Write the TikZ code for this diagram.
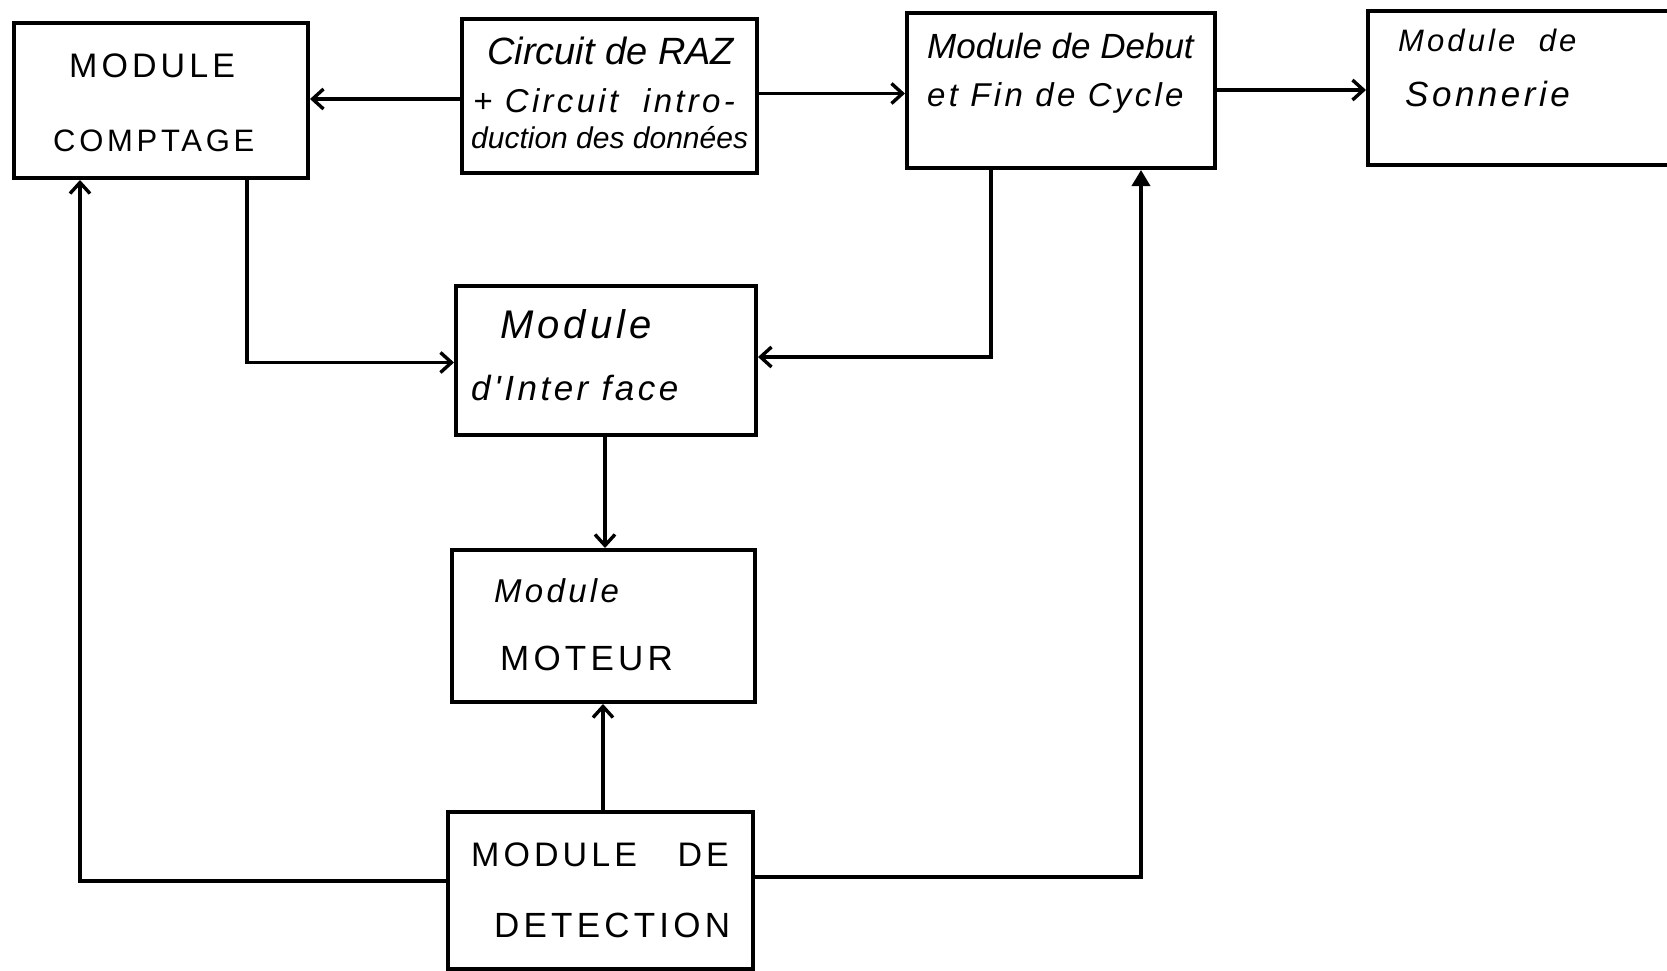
\documentclass[tikz,border=0pt]{standalone}
\usepackage{fontspec}
\setmainfont{Liberation Sans}
\newfontfamily\capsfont[LetterSpace=12]{Liberation Sans}
\newfontfamily\spfont[LetterSpace=10]{Liberation Sans}
\usetikzlibrary{arrows.meta}
\begin{document}
\begin{tikzpicture}[x=1pt,y=-1pt,
  box/.style={draw, line width=4pt, inner sep=0pt},
  conn/.style={line width=3.6pt},
  arr/.style={conn, -{Straight Barb[length=11pt,width=20pt,line width=3.4pt]}},
  tri/.style={conn, -{Triangle[length=16pt,width=18pt]}},
  lc/.style={anchor=west, inner sep=0pt, font=\fontsize{#1}{#1}\selectfont\itshape},
  lcs/.style={anchor=west, inner sep=0pt, font=\fontsize{#1}{#1}\selectfont\spfont\itshape},
  uc/.style={anchor=west, inner sep=0pt, font=\fontsize{#1}{#1}\selectfont\capsfont}]
\fill[white] (0,0) rectangle (1667,971);
\useasboundingbox (0,0) rectangle (1667,971);

% boxes
\node[box, minimum width=294pt, minimum height=155pt] (comptage) at (161,100.5) {};
\node[box, minimum width=295pt, minimum height=154pt] (raz) at (609.5,96) {};
\node[box, minimum width=308pt, minimum height=155pt] (debut) at (1061,90.5) {};
\node[box, minimum width=312pt, minimum height=154pt] (son) at (1524,88) {};
\node[box, minimum width=300pt, minimum height=149pt] (iface) at (606,360.5) {};
\node[box, minimum width=303pt, minimum height=152pt] (moteur) at (603.5,626) {};
\node[box, minimum width=305pt, minimum height=157pt] (detect) at (600.5,890.5) {};

% texts
\node[uc=34] (t1) at (69,66) {MODULE};
\node[uc=31] (t2) at (53,141) {COMPTAGE};
\node[lc=38] (t3) at (487,51) {Circuit de RAZ};
\node[lcs=33] (t4) at (473,101) {+ Circuit\ \ intro-};
\node[lc=30] (t5) at (471,138) {duction des données};
\node[lc=35] (t6) at (927,46) {Module de Debut};
\node[lcs=33] (t7) at (927,98) {et Fin de Cycle};
\node[lcs=31] (t8) at (1398,40) {Module\ \ de};
\node[lcs=35] (t9) at (1405,94) {Sonnerie};
\node[lcs=40] (t10) at (500,324) {Module};
\node[lcs=35] (t11) at (471,388) {d'Inter face};
\node[lcs=33] (t12) at (494,591) {Module};
\node[uc=35] (t13) at (500,658) {MOTEUR};
\node[uc=34] (t14) at (471,855) {MODULE\ \ \ DE};
\node[uc=35] (t15) at (494,925) {DETECTION};

% connector levels
\coordinate (ya) at (0,99);
\coordinate (yb) at (0,93.5);
\coordinate (yc) at (0,90);
\coordinate (xd) at (247,0);
\coordinate (yd) at (0,362.5);
\coordinate (xe) at (991,0);
\coordinate (ye) at (0,357);
\coordinate (xf) at (605,0);
\coordinate (xg) at (603,0);
\coordinate (yh) at (0,881);
\coordinate (xh) at (80,0);
\coordinate (yi) at (0,877);
\coordinate (xi) at (1141,0);

% connectors
\draw[arr] (raz.west |- ya) -- (comptage.east |- ya);
\draw[arr] (raz.east |- yb) -- (debut.west |- yb);
\draw[arr] (debut.east |- yc) -- (son.west |- yc);
\draw[arr] (comptage.south -| xd) |- (iface.west |- yd);
\draw[arr] (debut.south -| xe) |- (iface.east |- ye);
\draw[arr] (iface.south -| xf) -- (moteur.north -| xf);
\draw[arr] (detect.north -| xg) -- (moteur.south -| xg);
\draw[arr] (detect.west |- yh) -| (comptage.south -| xh);
\draw[tri] (detect.east |- yi) -| (debut.south -| xi);
\end{tikzpicture}
\end{document}
